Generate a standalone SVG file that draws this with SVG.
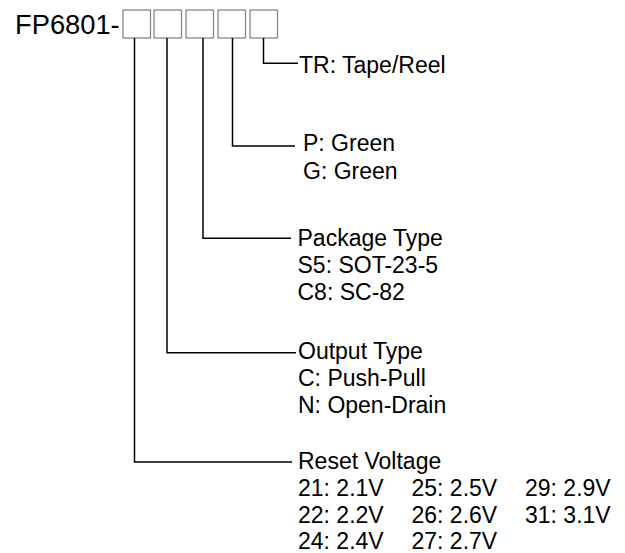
<svg xmlns="http://www.w3.org/2000/svg" width="625" height="553" viewBox="0 0 625 553">
<style>
text{font-family:"Liberation Sans",Arial,sans-serif;fill:#000}
.t{font-size:27.3px}
.l{font-size:23px}
.box{fill:#fff;stroke:#888;stroke-width:1.3}
.c{fill:none;stroke:#000;stroke-width:1.5}
</style>
<rect width="625" height="553" fill="#fff"/>
<g id="title"><text class="t" x="15" y="33.5">FP6801-</text></g>
<g id="boxes">
<rect class="box" x="123" y="10" width="27.5" height="28"/>
<rect class="box" x="154" y="10" width="27.5" height="28"/>
<rect class="box" x="186" y="10" width="27.5" height="28"/>
<rect class="box" x="218" y="10" width="27.5" height="28"/>
<rect class="box" x="250" y="10" width="27.5" height="28"/>
</g>
<g id="connectors">
<polyline class="c" points="263.5,38 263.5,63.3 298,63.3"/>
<polyline class="c" points="232.5,38 232.5,146 295,146"/>
<polyline class="c" points="203,38 203,238.3 291,238.3"/>
<polyline class="c" points="167,38 167,352.7 296,352.7"/>
<polyline class="c" points="134.5,38 134.5,462 292,462"/>
</g>
<g id="tr"><text class="l" x="299" y="73.3">TR: Tape/Reel</text></g>
<g id="green"><text class="l" x="303" y="151">P: Green</text><text class="l" x="303" y="178.5">G: Green</text></g>
<g id="package"><text class="l" x="297.5" y="246">Package Type</text><text class="l" x="297.5" y="273">S5: SOT-23-5</text><text class="l" x="297.5" y="300">C8: SC-82</text></g>
<g id="output"><text class="l" x="298" y="358.5">Output Type</text><text class="l" x="298" y="385.5">C: Push-Pull</text><text class="l" x="298" y="412.5">N: Open-Drain</text></g>
<g id="reset"><text class="l" x="298" y="468.5">Reset Voltage</text>
<text class="l" x="298" y="496">21: 2.1V</text><text class="l" x="411.5" y="496">25: 2.5V</text><text class="l" x="525" y="496">29: 2.9V</text>
<text class="l" x="298" y="522.5">22: 2.2V</text><text class="l" x="411.5" y="522.5">26: 2.6V</text><text class="l" x="525" y="522.5">31: 3.1V</text>
<text class="l" x="298" y="549">24: 2.4V</text><text class="l" x="411.5" y="549">27: 2.7V</text>
</g>
</svg>
